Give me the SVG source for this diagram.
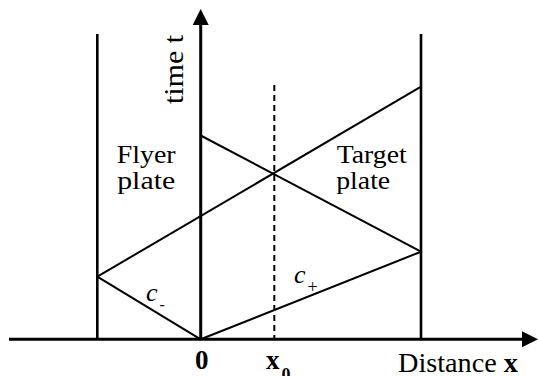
<svg xmlns="http://www.w3.org/2000/svg" width="539" height="376" viewBox="0 0 539 376">
<style>
.axis{stroke:#000;stroke-width:3;fill:none}
.plate{stroke:#000;stroke-width:2.6;fill:none}
.ray{stroke:#000;stroke-width:2;fill:none}
.dash{stroke:#000;stroke-width:2;fill:none;stroke-dasharray:6 4}
text{font-family:'Liberation Serif','DejaVu Serif',serif;fill:#000}
</style>
<rect width="539" height="376" fill="#fff"/>
<g id="axes">
<line class="axis" x1="9" y1="339.3" x2="524" y2="339.3"/>
<polygon points="538,339.3 522,331.3 522,347.3" fill="#000"/>
<line class="axis" x1="200.7" y1="339.3" x2="200.7" y2="23"/>
<polygon points="200.7,9 192.7,25 208.7,25" fill="#000"/>
</g>
<g id="plates">
<line class="plate" x1="97.3" y1="34" x2="97.3" y2="339.3"/>
<line class="plate" x1="421" y1="34" x2="421" y2="339.3"/>
</g>
<g id="connectors">
<line class="ray" x1="200.7" y1="339.3" x2="97.3" y2="276.7"/>
<line class="ray" x1="97.3" y1="276.7" x2="421" y2="86.7"/>
<line class="ray" x1="200.7" y1="135.5" x2="421" y2="251.7"/>
<line class="ray" x1="200.7" y1="339.3" x2="421" y2="251.7"/>
<line class="dash" x1="274.3" y1="85" x2="274.3" y2="339.3"/>
</g>
<g id="labels" font-family="Liberation Serif, DejaVu Serif, serif">
<text font-size="27" x="183.3" y="104" transform="rotate(-90 183.3 104)" textLength="69" lengthAdjust="spacingAndGlyphs">time t</text>
<text font-size="26" x="116.7" y="163.3" textLength="59" lengthAdjust="spacingAndGlyphs">Flyer</text>
<text font-size="26" x="117.2" y="189.3" textLength="58" lengthAdjust="spacingAndGlyphs">plate</text>
<text font-size="26" x="336.7" y="163.3" textLength="70" lengthAdjust="spacingAndGlyphs">Target</text>
<text font-size="26" x="336.2" y="189.3" textLength="54" lengthAdjust="spacingAndGlyphs">plate</text>
<text font-size="26" font-style="italic" x="146" y="300.7">c</text>
<text font-size="16" x="159.5" y="310">-</text>
<text font-size="26" font-style="italic" x="294" y="282.7">c</text>
<text font-size="18" x="307.5" y="292.5">+</text>
<text font-size="27" font-weight="bold" x="201.7" y="369.3" text-anchor="middle">0</text>
<text font-size="27" font-weight="bold" x="266" y="369.3">x<tspan font-size="18" dx="2" dy="11.7">0</tspan></text>
<text font-size="27" x="398" y="372" textLength="120" lengthAdjust="spacingAndGlyphs">Distance <tspan font-weight="bold">x</tspan></text>
</g>
</svg>
